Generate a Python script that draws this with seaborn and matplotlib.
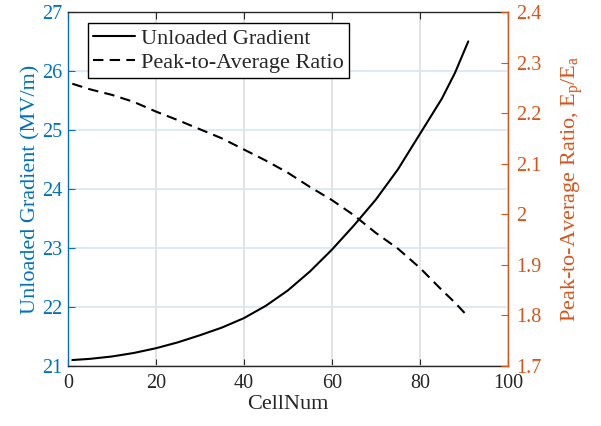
import numpy as np
import pandas as pd
import matplotlib
matplotlib.use("Agg")
import matplotlib.pyplot as plt
import seaborn as sns

# values
cell_num = [1, 5, 10, 15, 20, 25, 30, 35, 40, 45, 50, 55, 60, 65, 70, 75, 80, 85, 88, 91]
gradient = [21.10, 21.12, 21.16, 21.22, 21.30, 21.40, 21.52, 21.65, 21.81, 22.02,
            22.28, 22.60, 22.97, 23.38, 23.82, 24.33, 24.93, 25.53, 25.97, 26.50]
peak_avg = [2.258, 2.247, 2.236, 2.222, 2.203, 2.186, 2.168, 2.150, 2.128, 2.106,
            2.082, 2.054, 2.028, 1.998, 1.963, 1.932, 1.894, 1.850, 1.825, 1.797]

x_ticks = [0, 20, 40, 60, 80, 100]
left_ticks = [21, 22, 23, 24, 25, 26, 27]
right_ticks = [1.7, 1.8, 1.9, 2.0, 2.1, 2.2, 2.3, 2.4]
right_labels = ["1.7", "1.8", "1.9", "2", "2.1", "2.2", "2.3", "2.4"]

BLUE = "#0072BD"
ORANGE = "#D95319"
TICK_FS = 14.5
LABEL_FS = 16

sns.set_style("ticks")
plt.rcParams["font.family"] = ["Liberation Serif", "DejaVu Serif"]
plt.rcParams["mathtext.fontset"] = "custom"
plt.rcParams["mathtext.rm"] = "Liberation Serif"
plt.rcParams["mathtext.it"] = "Liberation Serif"
plt.rcParams["xtick.direction"] = "in"
plt.rcParams["ytick.direction"] = "in"

df = pd.DataFrame({"CellNum": cell_num, "Gradient": gradient, "Ratio": peak_avg})

fig = plt.figure(figsize=(6.01, 4.26), dpi=100)
ax = fig.add_axes([0.113, 0.141, 0.732, 0.831])
ax2 = ax.twinx()

sns.lineplot(data=df, x="CellNum", y="Gradient", ax=ax, color="black", lw=1.5,
             label="Unloaded Gradient", legend=False)
sns.lineplot(data=df, x="CellNum", y="Ratio", ax=ax2, color="black", lw=1.5,
             linestyle=(0, (5, 3)), label="Peak-to-Average Ratio", legend=False)

ax.set_xlim(0, 100)
ax.set_ylim(21, 27)
ax2.set_ylim(1.7, 2.4)
ax.set_xticks(x_ticks)
ax.set_yticks(left_ticks)
ax2.set_yticks(right_ticks)
ax2.set_yticklabels(right_labels)

ax.xaxis.grid(True, color="#dbdee2", lw=1.2)
ax.yaxis.grid(True, color="#d5e6f3", lw=1.2)
ax.set_axisbelow(True)

ax.tick_params(axis="x", colors="#262626", labelsize=TICK_FS, top=True, length=5, pad=6)
ax.tick_params(axis="y", colors=BLUE, labelsize=TICK_FS, length=5, pad=4)
ax2.tick_params(axis="y", colors=ORANGE, labelsize=TICK_FS, length=5, pad=6)

for s in ["top", "bottom"]:
    ax.spines[s].set_color("#262626")
ax.spines["left"].set_color(BLUE)
ax2.spines["left"].set_visible(False)
ax2.spines["right"].set_color(ORANGE)
ax2.spines["top"].set_visible(False)
ax2.spines["bottom"].set_visible(False)
ax.spines["right"].set_visible(False)
for s in ax.spines.values():
    s.set_linewidth(1.0)
ax2.spines["right"].set_linewidth(1.0)

ax.set_xlabel("CellNum", fontsize=LABEL_FS, color="#262626", labelpad=1)
ax.set_ylabel("Unloaded Gradient (MV/m)", fontsize=LABEL_FS, color=BLUE, labelpad=1)
ax2.set_ylabel(r"Peak-to-Average Ratio, E$_\mathrm{p}$/E$_\mathrm{a}$", fontsize=LABEL_FS,
               color=ORANGE, labelpad=13)

h1, l1 = ax.get_legend_handles_labels()
h2, l2 = ax2.get_legend_handles_labels()
leg = ax2.legend(h1 + h2, l1 + l2, loc="upper left", bbox_to_anchor=(0.045, 0.969),
                 borderaxespad=0, fontsize=LABEL_FS, frameon=True, fancybox=False,
                 handlelength=1.9, borderpad=0.25, labelspacing=0.15, handletextpad=0.25)
leg.get_frame().set_edgecolor("black")
leg.get_frame().set_linewidth(1.0)
leg.get_frame().set_alpha(1)

fig.savefig("out.png", dpi=100)
